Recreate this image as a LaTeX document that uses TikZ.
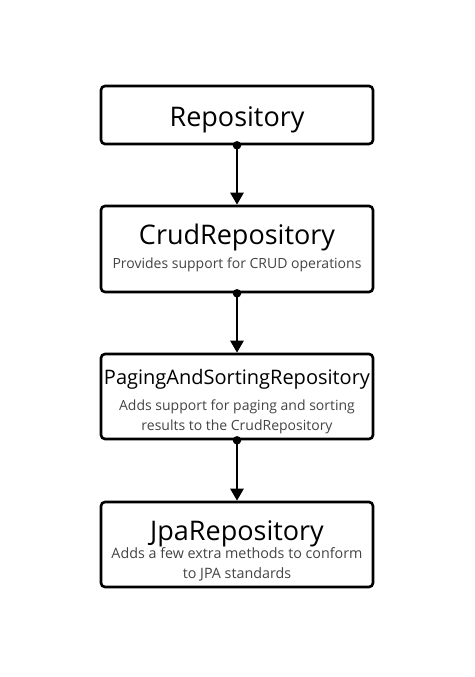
\documentclass[tikz,border=0pt]{standalone}
\usepackage{fontspec}
\setmainfont{Open Sans}
\usetikzlibrary{arrows.meta}
\definecolor{subgray}{HTML}{444444}
\tikzset{
  box/.style={draw=black, line width=2.6pt, rounded corners=4pt, minimum width=272pt, inner sep=0pt},
  title/.style={text=black, font=\fontsize{27}{30}\selectfont, inner sep=0pt},
  ptitle/.style={text=black, font=\fontsize{20}{24}\selectfont, inner sep=0pt},
  sub/.style={text=subgray, font=\fontsize{14}{20}\selectfont, align=center, inner sep=0pt},
  conn/.style={line width=2.6pt, -{Triangle[length=12pt,width=13pt]}, shorten >=0pt},
  dot/.style={circle, fill=black, inner sep=0pt, minimum size=8.5pt}
}
\begin{document}
\begin{tikzpicture}[x=1pt,y=-1pt]
\useasboundingbox (0,0) rectangle (474,677);
\fill[white] (0,0) rectangle (474,677);
% boxes
\node[box, minimum height=58pt] (b1) at (237,115) {};
\node[box, minimum height=86pt] (b2) at (237,249) {};
\node[box, minimum height=85pt] (b3) at (237,396.5) {};
\node[box, minimum height=85pt] (b4) at (237,544.5) {};
% texts
\node[title] (t1) at (237,120) {Repository};
\node[title] (t2) at (237,237) {CrudRepository};
\node[sub] (s2) at (237,265) {Provides support for CRUD operations};
\node[ptitle] (t3) at (237,379) {PagingAndSortingRepository};
\node[sub] (s3) at (237,417) {Adds support for paging and sorting\\results to the CrudRepository};
\node[title] (t4) at (237,534) {JpaRepository};
\node[sub, font=\fontsize{14.3}{20}\selectfont] (s4) at (237,564) {Adds a few extra methods to conform\\to JPA standards};
% connectors
\node[dot] (d1) at (b1.south) {};
\node[dot] (d2) at (b2.south) {};
\node[dot] (d3) at (b3.south) {};
\draw[conn] (b1.south) -- (b2.north);
\draw[conn] (b2.south) -- (b3.north);
\draw[conn] (b3.south) -- (b4.north);
\end{tikzpicture}
\end{document}
